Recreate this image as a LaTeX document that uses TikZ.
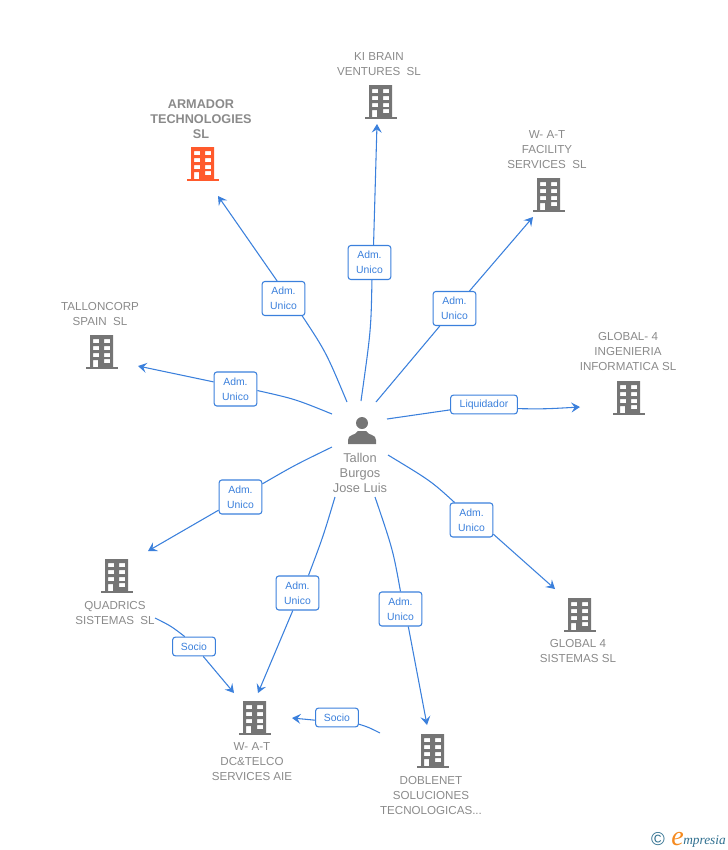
\documentclass[tikz,border=0pt]{standalone}
\usepackage{fontspec}
\setmainfont{Liberation Sans}
\newfontfamily\logofont{Liberation Serif}
\usetikzlibrary{arrows.meta}
\definecolor{linkblue}{HTML}{3B80DC}
\definecolor{textgray}{HTML}{8A8A8A}
\definecolor{iconcolor}{HTML}{757575}
\definecolor{armadorred}{HTML}{FF5A2C}
\definecolor{logoteal}{HTML}{2F6F8F}
\definecolor{logoorange}{HTML}{F58A1F}
\tikzstyle{role} = [draw=linkblue, fill=white, rounded corners=2pt, line width=0.8pt,
    text=linkblue, font=\fontsize{7.8}{11.25}\selectfont, align=center, inner sep=0pt]
\tikzstyle{adm} = [role, minimum width=32pt, minimum height=25.5pt]
\tikzstyle{short} = [role, minimum height=14pt]
\tikzstyle{company} = [text=textgray, font=\fontsize{8.7}{11.25}\selectfont, align=center, inner sep=0pt]
\tikzstyle{link} = [draw=linkblue, line width=0.8pt]
\tikzset{pics/building/.style={code={
    \fill[#1, even odd rule] (-12,-17) rectangle (11,15)
        (-9,-13) rectangle (-3,-9) (2,-13) rectangle (8,-9)
        (-9,-6) rectangle (-3,-2) (2,-6) rectangle (8,-2)
        (-9,1) rectangle (-3,5) (2,1) rectangle (8,5)
        (-9,8) rectangle (-4,15) (2,7) rectangle (8,11);
    \fill[#1] (-16,15) rectangle (16,17);
}}}
\begin{document}
\begin{tikzpicture}[x=0.75pt, y=-0.75pt, >={Stealth[length=6.5pt, width=7.5pt, inset=2.5pt]}]
    \useasboundingbox (0,0) rectangle (728,850);

    % buildings
    \pic at (381,102) {building=iconcolor};
    \pic at (203,164) {building=armadorred};
    \pic at (549,195) {building=iconcolor};
    \pic at (102,352) {building=iconcolor};
    \pic at (629,398) {building=iconcolor};
    \pic at (117,576) {building=iconcolor};
    \pic at (580,615) {building=iconcolor};
    \pic at (255,718) {building=iconcolor};
    \pic at (433,751) {building=iconcolor};

    % company names
    \node [company] (kibrain) at (379,64) {KI BRAIN\\VENTURES\ \ SL};
    \node [company, font=\fontsize{9.5}{11.25}\selectfont\bfseries] (armador) at (201,119) {ARMADOR\\TECHNOLOGIES\\SL};
    \node [company] (watfacility) at (547,150) {W- A-T\\FACILITY\\SERVICES\ \ SL};
    \node [company] (talloncorp) at (100,314) {TALLONCORP\\SPAIN\ \ SL};
    \node [company] (globalingenieria) at (628,352) {GLOBAL- 4\\INGENIERIA\\INFORMATICA SL};
    \node [company] (quadrics) at (115,613) {QUADRICS\\SISTEMAS\ \ SL};
    \node [company] (globalsistemas) at (578,651) {GLOBAL 4\\SISTEMAS SL};
    \node [company] (watdc) at (252,762) {W- A-T\\DC\&TELCO\\SERVICES AIE};
    \node [company] (doblenet) at (431,795) {DOBLENET\\SOLUCIONES\\TECNOLOGICAS...};

    % person
    \fill [iconcolor] (362,423) circle [radius=6];
    \fill [iconcolor] (348,444) -- (348,440) .. controls (348,434) and (355,436) .. (358,431)
        -- (366,431) .. controls (369,436) and (376,434) .. (376,440) -- (376,444) -- cycle;
    \node [company, font=\fontsize{9.6}{11.25}\selectfont] (tallon) at (360,473) {Tallon\\Burgos\\Jose Luis};

    % role labels
    \node [adm] (admki) at (369.5,262.5) {Adm.\\Unico};
    \node [adm] (admarmador) at (283.5,298.5) {Adm.\\Unico};
    \node [adm] (admfacility) at (454.5,308.5) {Adm.\\Unico};
    \node [adm] (admtalloncorp) at (235.5,389) {Adm.\\Unico};
    \node [adm] (admquadrics) at (240.5,497) {Adm.\\Unico};
    \node [adm] (admsistemas) at (471.5,520) {Adm.\\Unico};
    \node [adm] (admdoblenet) at (400.5,609) {Adm.\\Unico};
    \node [adm] (admdc) at (297.5,593) {Adm.\\Unico};
    \node [short, minimum width=50pt] (liquidador) at (484,404.5) {Liquidador};
    \node [short, minimum width=32pt] (socioquadrics) at (194,646.5) {Socio};
    \node [short, minimum width=32pt] (sociodoblenet) at (337,717.5) {Socio};

    % free ends of the links
    \coordinate (fromki) at (361,401);
    \coordinate (fromarmador) at (347,402);
    \coordinate (fromfacility) at (376,402);
    \coordinate (fromtalloncorp) at (332,414);
    \coordinate (fromliquidador) at (387,419);
    \coordinate (fromsistemas) at (388,455);
    \coordinate (fromdoblenet) at (375,497);
    \coordinate (fromdc) at (335,497);
    \coordinate (fromquadrics) at (332,447);
    \coordinate (fromsocioq) at (155,618);
    \coordinate (fromsociod) at (380,733);
    \coordinate (toki) at (377,124);
    \coordinate (toarmador) at (218,196);
    \coordinate (tofacility) at (533,217);
    \coordinate (totalloncorp) at (138,366);
    \coordinate (toglobal) at (580,407);
    \coordinate (tosistemas) at (555,589);
    \coordinate (todoblenet) at (427,725);
    \coordinate (todc) at (258,693);
    \coordinate (toquadrics) at (148,551);
    \coordinate (tosocioq) at (234,693);
    \coordinate (tosociod) at (292,718);

    % links
    \draw [link] (fromki) .. controls (371,330) .. (admki.-82);
    \draw [link, ->] (admki.77) -- (toki);
    \draw [link] (fromarmador) .. controls (326,352) .. (admarmador.-43);
    \draw [link, ->] (admarmador.110) -- (toarmador);
    \draw [link] (fromfacility) -- (admfacility);
    \draw [link, ->] (admfacility) -- (tofacility);
    \draw [link] (fromtalloncorp) .. controls (295,399) .. (admtalloncorp.-4);
    \draw [link, ->] (admtalloncorp.162) -- (totalloncorp);
    \draw [link] (fromliquidador) -- (liquidador.189);
    \draw [link, ->] (liquidador.-7) .. controls (545,409) .. (toglobal);
    \draw [link] (fromsistemas) .. controls (431,481) .. (admsistemas.134);
    \draw [link, ->] (admsistemas.-33) -- (tosistemas);
    \draw [link] (fromdoblenet) .. controls (393,550) .. (admdoblenet.90);
    \draw [link, ->] (admdoblenet.-66) -- (todoblenet);
    \draw [link] (fromdc) .. controls (323,537) .. (admdc.58);
    \draw [link, ->] (admdc.-105) -- (todc);
    \draw [link] (fromquadrics) .. controls (295,465) .. (admquadrics.31);
    \draw [link, ->] (admquadrics.211) -- (toquadrics);
    \draw [link] (fromsocioq) .. controls (171,626) .. (socioquadrics.133);
    \draw [link, ->] (socioquadrics.-47) -- (tosocioq);
    \draw [link] (fromsociod) .. controls (368,727) .. (sociodoblenet.-17);
    \draw [link, ->] (sociodoblenet.187) -- (tosociod);

    % logo
    \node [text=logoteal, font=\fontsize{14}{14}\selectfont, inner sep=0pt] (copyright) at (658,839) {\textcopyright};
    \node [text=logoorange, font=\logofont\itshape\fontsize{21}{21}\selectfont, inner sep=0pt, anchor=base west] (logoe) at (671,845) {e};
    \node [text=logoteal, font=\logofont\itshape\fontsize{10}{10}\selectfont, inner sep=0pt, anchor=base west] (logotext) at (683,844) {mpresia};
\end{tikzpicture}
\end{document}
